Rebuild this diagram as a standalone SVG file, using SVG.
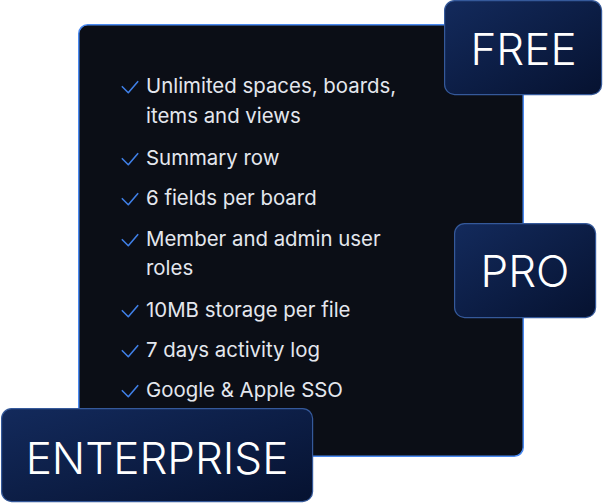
<svg xmlns="http://www.w3.org/2000/svg" width="603" height="503" viewBox="0 0 603 503">
  <defs>
    <linearGradient id="badgeGrad" x1="0" y1="0" x2="1" y2="1">
      <stop offset="0" stop-color="#132a5c"/>
      <stop offset="1" stop-color="#061230"/>
    </linearGradient>
    <style>
      .item { font-family: Inter, "Noto Sans", "Liberation Sans", sans-serif; font-size: 20.4px; fill: #e4e7ee; }
      .check { fill: none; stroke: #3f7fe6; stroke-width: 1.6; stroke-linecap: round; stroke-linejoin: round; }
      .badge { fill: url(#badgeGrad); stroke: #35599a; stroke-width: 1.2; }
      .badgeText { font-family: Inter, "Noto Sans", "Liberation Sans", sans-serif; font-size: 44px; font-weight: 300; fill: #ffffff; text-anchor: middle; }
    </style>
  </defs>
  <rect width="603" height="503" fill="#ffffff"/>

  <g id="panel">
    <rect x="78.75" y="24.75" width="444.5" height="431.5" rx="9" fill="#0b0e16" stroke="#4a89f0" stroke-width="1.5"/>
    <g id="item-1">
      <polyline class="check" points="122.3,86.7 128.3,92.7 137.7,81.7"/>
      <text class="item" x="146" y="93">Unlimited spaces, boards,</text>
      <text class="item" x="146" y="123">items and views</text>
    </g>
    <g id="item-2">
      <polyline class="check" points="122.3,158.7 128.3,164.7 137.7,153.7"/>
      <text class="item" x="146" y="165">Summary row</text>
    </g>
    <g id="item-3">
      <polyline class="check" points="122.3,198.7 128.3,204.7 137.7,193.7"/>
      <text class="item" x="146" y="205">6 fields per board</text>
    </g>
    <g id="item-4">
      <polyline class="check" points="122.3,239.7 128.3,245.7 137.7,234.7"/>
      <text class="item" x="146" y="246">Member and admin user</text>
      <text class="item" x="146" y="275">roles</text>
    </g>
    <g id="item-5">
      <polyline class="check" points="122.3,310.7 128.3,316.7 137.7,305.7"/>
      <text class="item" x="146" y="317">10MB storage per file</text>
    </g>
    <g id="item-6">
      <polyline class="check" points="122.3,350.7 128.3,356.7 137.7,345.7"/>
      <text class="item" x="146" y="357">7 days activity log</text>
    </g>
    <g id="item-7">
      <polyline class="check" points="122.3,390.7 128.3,396.7 137.7,385.7"/>
      <text class="item" x="146" y="397">Google &amp; Apple SSO</text>
    </g>
  </g>

  <g id="badge-free">
    <rect class="badge" x="444.6" y="0.6" width="157" height="94" rx="10"/>
    <text class="badgeText" x="523.5" y="65">FREE</text>
  </g>

  <g id="badge-pro">
    <rect class="badge" x="454.6" y="223.6" width="141" height="94" rx="10"/>
    <text class="badgeText" x="525" y="286.5">PRO</text>
  </g>

  <g id="badge-enterprise">
    <rect class="badge" x="1.6" y="408.6" width="311" height="93" rx="10"/>
    <text class="badgeText" x="157" y="473.5">ENTERPRISE</text>
  </g>
</svg>
